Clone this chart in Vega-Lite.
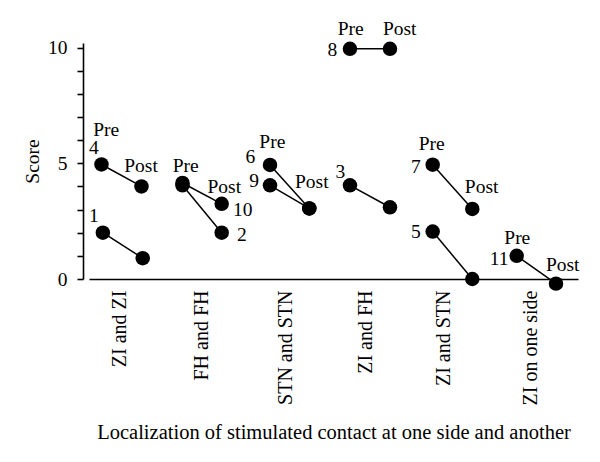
{
  "$schema": "https://vega.github.io/schema/vega-lite/v6.json",
  "autosize": {"type": "none"},
  "padding": {"left": 89, "top": 43, "right": 22, "bottom": 183},
  "width": 489,
  "height": 236,
  "background": "white",
  "config": {
    "view": {"stroke": null},
    "font": "Liberation Serif",
    "axis": {
      "labelFont": "Liberation Serif",
      "titleFont": "Liberation Serif",
      "labelColor": "black",
      "titleColor": "black",
      "domainColor": "black",
      "tickColor": "black",
      "titleFontWeight": "normal",
      "grid": false
    }
  },
  "datasets": {
    "scores": [
      {"patient": "4", "phase": "Pre", "pos": 0.153, "score": 4.95},
      {"patient": "4", "phase": "Post", "pos": 0.644, "score": 4.0},
      {"patient": "1", "phase": "Pre", "pos": 0.17, "score": 2.0},
      {"patient": "1", "phase": "Post", "pos": 0.659, "score": 0.9},
      {"patient": "10", "phase": "Pre", "pos": 1.147, "score": 4.15},
      {"patient": "10", "phase": "Post", "pos": 1.628, "score": 3.25},
      {"patient": "2", "phase": "Pre", "pos": 1.147, "score": 4.05},
      {"patient": "2", "phase": "Post", "pos": 1.628, "score": 2.0},
      {"patient": "6", "phase": "Pre", "pos": 2.221, "score": 4.93},
      {"patient": "6", "phase": "Post", "pos": 2.703, "score": 3.05},
      {"patient": "9", "phase": "Pre", "pos": 2.221, "score": 4.05},
      {"patient": "9", "phase": "Post", "pos": 2.703, "score": 3.05},
      {"patient": "8", "phase": "Pre", "pos": 3.202, "score": 9.95},
      {"patient": "8", "phase": "Post", "pos": 3.693, "score": 9.95},
      {"patient": "3", "phase": "Pre", "pos": 3.202, "score": 4.05},
      {"patient": "3", "phase": "Post", "pos": 3.693, "score": 3.1},
      {"patient": "7", "phase": "Pre", "pos": 4.217, "score": 4.94},
      {"patient": "7", "phase": "Post", "pos": 4.703, "score": 3.03},
      {"patient": "5", "phase": "Pre", "pos": 4.217, "score": 2.05},
      {"patient": "5", "phase": "Post", "pos": 4.703, "score": 0.0},
      {"patient": "11", "phase": "Pre", "pos": 5.248, "score": 1.0},
      {"patient": "11", "phase": "Post", "pos": 5.73, "score": -0.2}
    ],
    "notes": [
      {"note": "Pre", "pos": 0.212, "score": 6.2},
      {"note": "4", "pos": 0.061, "score": 5.42},
      {"note": "Post", "pos": 0.638, "score": 4.61},
      {"note": "1", "pos": 0.061, "score": 2.48},
      {"note": "Pre", "pos": 1.187, "score": 4.61},
      {"note": "Post", "pos": 1.66, "score": 3.71},
      {"note": "10", "pos": 1.886, "score": 2.73},
      {"note": "2", "pos": 1.877, "score": 1.66},
      {"note": "Pre", "pos": 2.249, "score": 5.67},
      {"note": "6", "pos": 1.979, "score": 5.02},
      {"note": "9", "pos": 2.025, "score": 3.96},
      {"note": "Post", "pos": 2.733, "score": 3.93},
      {"note": "Pre", "pos": 3.211, "score": 10.53},
      {"note": "Post", "pos": 3.812, "score": 10.53},
      {"note": "8", "pos": 2.985, "score": 9.64},
      {"note": "3", "pos": 3.083, "score": 4.36},
      {"note": "Pre", "pos": 4.205, "score": 5.59},
      {"note": "7", "pos": 4.012, "score": 4.58},
      {"note": "Post", "pos": 4.818, "score": 3.71},
      {"note": "5", "pos": 4.012, "score": 1.76},
      {"note": "Pre", "pos": 5.255, "score": 1.52},
      {"note": "11", "pos": 5.031, "score": 0.61},
      {"note": "Post", "pos": 5.812, "score": 0.36}
    ]
  },
  "encoding": {
    "y": {
      "field": "score",
      "type": "quantitative",
      "scale": {"domain": [0, 10.2], "nice": false, "zero": false},
      "axis": {
        "title": "Score",
        "titleFontSize": 19.5,
        "titlePadding": 5,
        "values": [0, 1, 2, 3, 4, 5, 6, 7, 8, 9, 10],
        "labelOpacity": {"condition": {"test": "datum.value == 0 || datum.value == 5 || datum.value == 10", "value": 1}, "value": 0},
        "labelFontSize": 19.5,
        "labelPadding": 10,
        "labelOverlap": false,
        "labelFlush": false,
        "tickSize": 6,
        "tickWidth": 1.6,
        "domainWidth": 1.6,
        "offset": 6
      }
    }
  },
  "layer": [
    {
      "data": {"name": "scores"},
      "mark": {"type": "line", "color": "black", "strokeWidth": 1.5},
      "encoding": {
        "x": {
          "field": "pos",
          "type": "quantitative",
          "scale": {"domain": [0, 6], "nice": false, "zero": false},
          "axis": {
            "title": "Localization of stimulated contact at one side and another",
            "titleFontSize": 20.5,
            "titlePadding": 18,
            "values": [0.372, 1.38, 2.405, 3.387, 4.344, 5.42],
            "labelExpr": "datum.value < 1 ? 'ZI and ZI' : datum.value < 2 ? 'FH and FH' : datum.value < 3 ? 'STN and STN' : datum.value < 4 ? 'ZI and FH' : datum.value < 5 ? 'ZI and STN' : 'ZI on one side'",
            "labelAngle": -90,
            "labelFontSize": 20,
            "labelPadding": 11,
            "labelOverlap": false,
            "labelFlush": false,
            "ticks": false,
            "tickSize": 0,
            "domainWidth": 1.6
          }
        },
        "detail": {"field": "patient", "type": "nominal"},
        "order": {"field": "pos", "type": "quantitative"}
      }
    },
    {
      "data": {"name": "scores"},
      "mark": {"type": "point", "filled": true, "color": "black", "opacity": 1, "size": 210, "shape": "circle"},
      "encoding": {
        "x": {"field": "pos", "type": "quantitative"}
      }
    },
    {
      "data": {"name": "notes"},
      "mark": {"type": "text", "font": "Liberation Serif", "fontSize": 19.5, "color": "black", "align": "center", "baseline": "alphabetic"},
      "encoding": {
        "x": {"field": "pos", "type": "quantitative"},
        "text": {"field": "note", "type": "nominal"}
      }
    }
  ]
}
